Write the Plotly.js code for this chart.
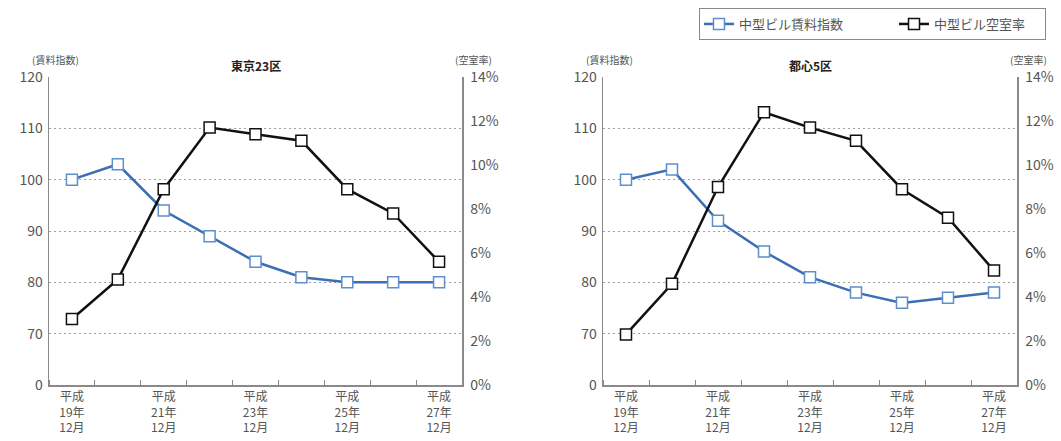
<!DOCTYPE html>
<html>
<head>
<meta charset="utf-8">
<script src="https://cdn.plot.ly/plotly-3.0.1.min.js"></script>
<style>
  html, body { margin: 0; padding: 0; background: #fff; }
  #chart { width: 1061px; height: 441px; }
</style>
</head>
<body>
<div id="chart"></div>
<script>
// 平成19年12月 〜 平成27年12月 (annual, December)
const years = [19, 20, 21, 22, 23, 24, 25, 26, 27];
const labelYears = [19, 21, 23, 25, 27];

// 東京23区
const rentTokyo23 = [100, 103, 94, 89, 84, 81, 80, 80, 80];
const vacancyTokyo23 = [3.0, 4.8, 8.9, 11.7, 11.4, 11.1, 8.9, 7.8, 5.6];

// 都心5区
const rentCentral5 = [100, 102, 92, 86, 81, 78, 76, 77, 78];
const vacancyCentral5 = [2.3, 4.6, 9.0, 12.4, 11.7, 11.1, 8.9, 7.6, 5.2];

// Rent index axis is broken: the bottom tick reads 0, the rest run 70-120
const rentTickVals = [60, 70, 80, 90, 100, 110, 120];
const rentTickText = ['0', '70', '80', '90', '100', '110', '120'];
const vacancyTickVals = [0, 2, 4, 6, 8, 10, 12, 14];
const vacancyTickText = vacancyTickVals.map(v => v + '%');

const seriesNames = ['中型ビル賃料指数', '中型ビル空室率'];
const panelTitles = ['東京23区', '都心5区'];

const BLUE = '#3b6fb4';
const BLUE_MARK = '#5e8fcc';
const BLACK = '#111111';
const GRAY_AXIS = '#8a8a8a';
const GRAY_TEXT = '#555555';
const FONT = '"Noto Sans CJK JP", "Noto Sans", sans-serif';

const xTickText = labelYears.map(y => `平成<br>${y}年<br>12月`);

function rentTrace(values, xa, ya, showlegend) {
  return {
    x: years, y: values, xaxis: xa, yaxis: ya,
    name: seriesNames[0], legendgroup: 'rent', showlegend, legendwidth: 150,
    type: 'scatter', mode: 'lines+markers',
    line: { color: BLUE, width: 2.5 },
    marker: { symbol: 'square', size: 11, color: '#ffffff', line: { color: BLUE_MARK, width: 1.5 } },
    hoverinfo: 'skip'
  };
}
function vacancyTrace(values, xa, ya, showlegend) {
  return {
    x: years, y: values, xaxis: xa, yaxis: ya,
    name: seriesNames[1], legendgroup: 'vac', showlegend, legendwidth: 106,
    type: 'scatter', mode: 'lines+markers',
    line: { color: BLACK, width: 2.5 },
    marker: { symbol: 'square', size: 11, color: '#ffffff', line: { color: BLACK, width: 1.5 } },
    hoverinfo: 'skip'
  };
}

const data = [
  rentTrace(rentTokyo23, 'x', 'y', true),
  vacancyTrace(vacancyTokyo23, 'x', 'y2', true),
  rentTrace(rentCentral5, 'x2', 'y3', false),
  vacancyTrace(vacancyCentral5, 'x2', 'y4', false)
];

const W = 1061, H = 441;
const yDomain = [1 - 385 / H, 1 - 77 / H];

function xAxis(domain, anchor) {
  return {
    domain, anchor, automargin: false,
    range: [years[0] - 0.5, years[years.length - 1] + 0.5],
    tickmode: 'array', tickvals: labelYears, ticktext: xTickText,
    ticks: '', showgrid: false, zeroline: false,
    showline: true, linecolor: GRAY_AXIS, linewidth: 1.5,
    tickfont: { family: FONT, size: 12, color: GRAY_TEXT },
    minor: { tick0: years[0] - 0.5, dtick: 1, ticks: 'inside', ticklen: 5, tickcolor: GRAY_AXIS, tickwidth: 1, showgrid: false },
    fixedrange: true
  };
}
function rentAxis(anchor) {
  return {
    domain: yDomain, anchor, automargin: false,
    range: [60, 120],
    tickmode: 'array', tickvals: rentTickVals, ticktext: rentTickText,
    ticks: '', showgrid: true, gridcolor: '#a0a0a0', griddash: '2px,3px', gridwidth: 1,
    zeroline: false, showline: true, linecolor: GRAY_AXIS, linewidth: 1.5,
    tickfont: { family: FONT, size: 14, color: GRAY_TEXT },
    ticklabelstandoff: 2,
    fixedrange: true
  };
}
function vacancyAxis(anchor, overlay) {
  return {
    overlaying: overlay, anchor, side: 'right', automargin: false,
    range: [0, 14],
    tickmode: 'array', tickvals: vacancyTickVals, ticktext: vacancyTickText,
    ticks: '', showgrid: false, zeroline: false,
    showline: true, linecolor: GRAY_AXIS, linewidth: 1.5,
    tickfont: { family: FONT, size: 14, color: GRAY_TEXT },
    ticklabelstandoff: 4,
    fixedrange: true
  };
}

function panelNotes(xref, yref, title) {
  return [
    { text: title, xref: xref + ' domain', yref: yref + ' domain', x: 0.5, y: 1,
      xanchor: 'center', yanchor: 'middle', yshift: 12, showarrow: false,
      font: { family: FONT, size: 12, color: '#222', weight: 'bold' } },
    { text: '(賃料指数)', xref: xref + ' domain', yref: yref + ' domain', x: 0, y: 1,
      xanchor: 'right', yanchor: 'middle', xshift: 32, yshift: 18, showarrow: false,
      font: { family: FONT, size: 10, color: GRAY_TEXT } },
    { text: '(空室率)', xref: xref + ' domain', yref: yref + ' domain', x: 1, y: 1,
      xanchor: 'left', yanchor: 'middle', xshift: -9, yshift: 18, showarrow: false,
      font: { family: FONT, size: 10, color: GRAY_TEXT } }
  ];
}

const layout = {
  width: W, height: H,
  margin: { l: 0, r: 0, t: 0, b: 0, autoexpand: false },
  paper_bgcolor: '#ffffff', plot_bgcolor: '#ffffff',
  font: { family: FONT, color: GRAY_TEXT },
  showlegend: true,
  legend: {
    orientation: 'h', x: 699 / W, y: 1 - 8 / H, xanchor: 'left', yanchor: 'top',
    bordercolor: '#8a8a8a', borderwidth: 1, bgcolor: '#ffffff',
    font: { family: FONT, size: 13, color: GRAY_TEXT },
    itemwidth: 30
  },
  xaxis: xAxis([49 / W, 462 / W], 'y'),
  yaxis: rentAxis('x'),
  yaxis2: vacancyAxis('x', 'y'),
  xaxis2: xAxis([603 / W, 1017 / W], 'y3'),
  yaxis3: rentAxis('x2'),
  yaxis4: vacancyAxis('x2', 'y3'),
  annotations: [
    ...panelNotes('x', 'y', panelTitles[0]),
    ...panelNotes('x2', 'y3', panelTitles[1])
  ]
};

Plotly.newPlot('chart', data, layout, { displayModeBar: false, staticPlot: true });
</script>
</body>
</html>
